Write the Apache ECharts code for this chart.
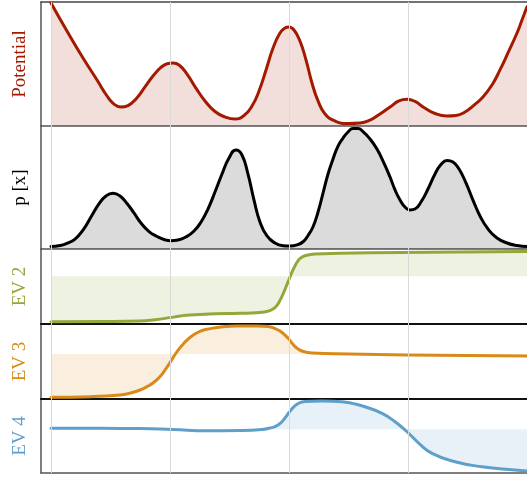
<!DOCTYPE html>
<html>
<head>
<meta charset="utf-8">
<script src="https://cdn.jsdelivr.net/npm/echarts@6/dist/echarts.min.js"></script>
<style>
  html, body { margin: 0; padding: 0; background: #fff; }
  #chart { width: 527px; height: 478px; }
</style>
</head>
<body>
<div id="chart"></div>
<script>
// x positions of the vertical guide lines
const gridX = [-2, -1, 0, 1, 2];

// Potential V(x)
const potX = [-2.000,-1.866,-1.731,-1.613,-1.529,-1.471,-1.412,-1.353,-1.286,-1.210,-1.143,-1.076,-1.017,-0.975,-0.924,-0.857,-0.782,-0.706,-0.622,-0.538,-0.454,-0.378,-0.311,-0.252,-0.193,-0.134,-0.076,-0.034,0.000,0.042,0.092,0.143,0.193,0.244,0.303,0.387,0.496,0.597,0.681,0.765,0.849,0.924,0.992,1.059,1.134,1.227,1.328,1.403,1.479,1.555,1.630,1.706,1.773,1.840,1.916,1.958,2.000];
const potV = [0.992,0.766,0.548,0.371,0.242,0.177,0.153,0.165,0.218,0.315,0.403,0.472,0.504,0.508,0.492,0.419,0.306,0.202,0.117,0.073,0.056,0.085,0.161,0.282,0.452,0.629,0.750,0.790,0.798,0.774,0.685,0.532,0.347,0.202,0.097,0.040,0.020,0.024,0.048,0.097,0.153,0.202,0.215,0.198,0.149,0.101,0.081,0.085,0.113,0.169,0.234,0.331,0.452,0.589,0.750,0.855,0.962];

// Stationary density p[x]
const pX = [-2.000,-1.924,-1.866,-1.798,-1.731,-1.664,-1.597,-1.538,-1.479,-1.420,-1.361,-1.303,-1.244,-1.176,-1.109,-1.050,-0.992,-0.933,-0.866,-0.798,-0.739,-0.681,-0.622,-0.563,-0.504,-0.445,-0.395,-0.345,-0.294,-0.244,-0.185,-0.118,-0.050,0.008,0.067,0.118,0.160,0.202,0.244,0.286,0.328,0.370,0.412,0.454,0.496,0.538,0.580,0.622,0.681,0.739,0.798,0.849,0.891,0.933,0.975,1.017,1.059,1.109,1.168,1.227,1.277,1.328,1.378,1.429,1.487,1.546,1.605,1.672,1.748,1.832,1.916,2.000];
const pV = [0.020,0.028,0.045,0.081,0.154,0.260,0.366,0.431,0.453,0.431,0.370,0.293,0.211,0.142,0.102,0.077,0.067,0.073,0.098,0.146,0.220,0.325,0.463,0.610,0.740,0.805,0.764,0.610,0.398,0.220,0.106,0.049,0.027,0.024,0.033,0.059,0.110,0.181,0.301,0.455,0.610,0.732,0.837,0.902,0.951,0.980,0.980,0.955,0.894,0.813,0.699,0.585,0.480,0.398,0.341,0.317,0.325,0.382,0.488,0.610,0.687,0.720,0.707,0.650,0.537,0.398,0.268,0.163,0.089,0.049,0.028,0.020];

// Eigenvector 2
const ev2X = [-2.000,-1.588,-1.252,-1.126,-1.000,-0.916,-0.832,-0.622,-0.412,-0.244,-0.185,-0.134,-0.101,-0.076,-0.050,-0.025,0.000,0.025,0.050,0.076,0.101,0.143,0.218,0.429,0.933,1.437,2.000];
const ev2V = [-1.000,-0.995,-0.983,-0.955,-0.910,-0.875,-0.850,-0.825,-0.814,-0.795,-0.775,-0.720,-0.640,-0.530,-0.390,-0.230,-0.070,0.090,0.227,0.340,0.410,0.458,0.490,0.506,0.524,0.535,0.546];

// Eigenvector 3
const ev3X = [-2.000,-1.672,-1.420,-1.336,-1.252,-1.193,-1.143,-1.100,-1.059,-1.017,-0.975,-0.933,-0.891,-0.849,-0.807,-0.748,-0.689,-0.555,-0.420,-0.269,-0.176,-0.118,-0.076,-0.034,0.000,0.025,0.067,0.109,0.193,0.504,0.992,2.000];
const ev3V = [-1.000,-0.987,-0.948,-0.905,-0.833,-0.755,-0.671,-0.570,-0.440,-0.270,-0.090,0.080,0.220,0.340,0.430,0.520,0.567,0.627,0.642,0.644,0.632,0.586,0.528,0.436,0.340,0.251,0.130,0.067,0.021,-0.002,-0.025,-0.048];

// Eigenvector 4
const ev4X = [-2.000,-1.588,-1.252,-0.975,-0.689,-0.412,-0.227,-0.160,-0.109,-0.067,-0.034,0.000,0.042,0.084,0.134,0.277,0.445,0.529,0.639,0.782,0.891,0.992,1.092,1.202,1.395,1.622,1.899,2.000];
const ev4V = [0.024,0.024,0.019,-0.005,-0.034,-0.029,-0.005,0.031,0.079,0.164,0.272,0.404,0.548,0.632,0.669,0.681,0.664,0.625,0.544,0.385,0.183,-0.058,-0.337,-0.577,-0.779,-0.900,-0.979,-1.003];

const panelNames = ['Potential', 'p [x]', 'EV 2', 'EV 3', 'EV 4'];
const panelColors = ['#a21a00', '#000000', '#93a83a', '#d98b1a', '#5f9fcb'];
const panelFill = ['rgba(162,26,0,0.2)', 'rgba(0,0,0,0.2)', 'rgba(147,168,58,0.22)', 'rgba(217,139,26,0.2)', 'rgba(95,159,203,0.2)'];
const panelRanges = [[0, 1], [0, 1], [-1.05, 0.6], [-1.04, 0.69], [-1.05, 0.73]];
const panelData = [[potX, potV], [pX, pV], [ev2X, ev2V], [ev3X, ev3V], [ev4X, ev4V]];

// panel layout (pixels)
const tops = [2, 126, 249, 324, 399];
const heights = [124, 123, 75, 75, 74];
const bottomLine = ['#555', '#555', '#111', '#111', '#555'];
const bottomWidth = [1.5, 1.5, 2, 2, 1.5];
const xMin = -2 - 10 / 119;

const zip = (xs, ys) => xs.map((x, i) => [x, ys[i]]);

const grids = [], xAxes = [], yAxes = [], series = [];
for (let i = 0; i < 5; i++) {
  grids.push({ left: 41, right: 0, top: tops[i], height: heights[i] });
  xAxes.push({
    type: 'value', gridIndex: i, min: xMin, max: 2,
    axisLine: { show: true, onZero: false, lineStyle: { color: bottomLine[i], width: bottomWidth[i] } },
    axisTick: { show: false }, axisLabel: { show: false }, splitLine: { show: false }
  });
  yAxes.push({
    type: 'value', gridIndex: i, min: panelRanges[i][0], max: panelRanges[i][1],
    name: panelNames[i], nameLocation: 'middle', nameGap: 11, nameRotate: 90,
    nameTextStyle: { color: panelColors[i], fontFamily: 'Liberation Serif', fontSize: 19 },
    axisLine: { show: true, onZero: false, lineStyle: { color: '#555', width: 1.5 } },
    axisTick: { show: false }, axisLabel: { show: false }, splitLine: { show: false }
  });
  // vertical guide lines
  series.push({
    type: 'line', xAxisIndex: i, yAxisIndex: i, data: [], z: 1, silent: true,
    markLine: {
      silent: true, symbol: ['none', 'none'], animation: false,
      label: { show: false },
      lineStyle: { color: '#d9d9d9', width: 1, type: 'solid' },
      data: gridX.map(v => ({ xAxis: v }))
    }
  });
  series.push({
    type: 'line', xAxisIndex: i, yAxisIndex: i, z: 3,
    data: zip(panelData[i][0], panelData[i][1]),
    smooth: 0.5, showSymbol: false, symbol: 'none', clip: true,
    lineStyle: { color: panelColors[i], width: 3, join: 'round', cap: 'round' },
    areaStyle: { color: panelFill[i], origin: i < 2 ? 'start' : 0 },
    animation: false
  });
}
// top frame line
xAxes.push({
  type: 'value', gridIndex: 0, position: 'top', min: xMin, max: 2,
  axisLine: { show: true, onZero: false, lineStyle: { color: '#444', width: 1.5 } },
  axisTick: { show: false }, axisLabel: { show: false }, splitLine: { show: false }
});

const chart = echarts.init(document.getElementById('chart'), null, { renderer: 'canvas' });
chart.setOption({
  animation: false,
  backgroundColor: '#ffffff',
  grid: grids, xAxis: xAxes, yAxis: yAxes, series: series
});
</script>
</body>
</html>
